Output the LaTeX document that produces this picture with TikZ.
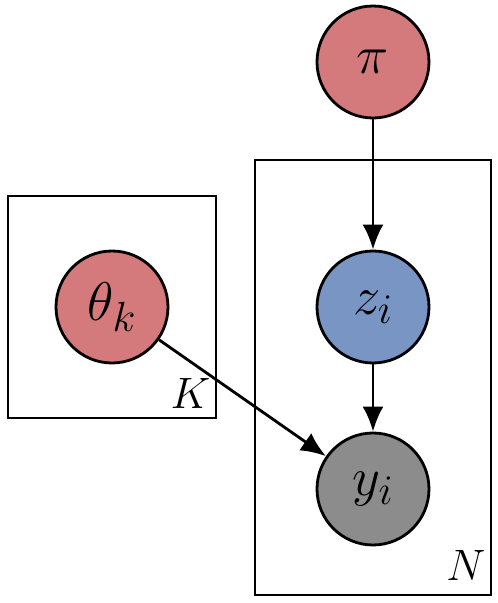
\RequirePackage{fix-cm}
\documentclass[tikz,border=0pt]{standalone}
\usetikzlibrary{arrows.meta}
\definecolor{rouge}{RGB}{212,122,124}
\definecolor{bleu}{RGB}{120,149,196}
\definecolor{gris}{RGB}{140,140,140}
\newcommand{\indice}[1]{\hbox{\fontsize{24}{24}\selectfont$#1$}}
\begin{document}
\begin{tikzpicture}[
		noeud/.style={circle, draw, line width=1.6pt, minimum size=2.24cm, inner sep=0pt, font=\fontsize{31}{31}\selectfont},
		fleche/.style={line width=1.6pt, -{Latex[length=5mm,width=4.2mm]}}]
				\useasboundingbox (0,0) rectangle (9.96,12.06);

				% Variables
				\node[noeud, fill=rouge] (pi) at (7.46,10.82) {$\pi$};
				\node[noeud, fill=bleu] (z) at (7.46,5.92) {$z_{\indice{i}}$};
				\node[noeud, fill=gris] (y) at (7.46,2.28) {$y_{\indice{i}}$};
				\node[noeud, fill=rouge] (theta) at (2.24,5.92) {$\theta_{\indice{k}}$};

				% Plaques
				\draw[line width=1.5pt] (0.16,3.70) rectangle (4.32,8.14);
				\node[above left, inner xsep=3pt, inner ysep=5pt, font=\fontsize{25}{25}\selectfont] (K) at (4.32,3.70) {$K$};
				\draw[line width=1.5pt] (5.10,0.16) rectangle (9.82,8.86);
				\node[above left, inner xsep=3pt, inner ysep=8pt, font=\fontsize{25}{25}\selectfont] (N) at (9.82,0.16) {$N$};

				% Dependances
				\draw[fleche] (pi) -- (z);
				\draw[fleche] (z) -- (y);
				\draw[fleche] (theta) -- (y);
			\end{tikzpicture}
\end{document}
